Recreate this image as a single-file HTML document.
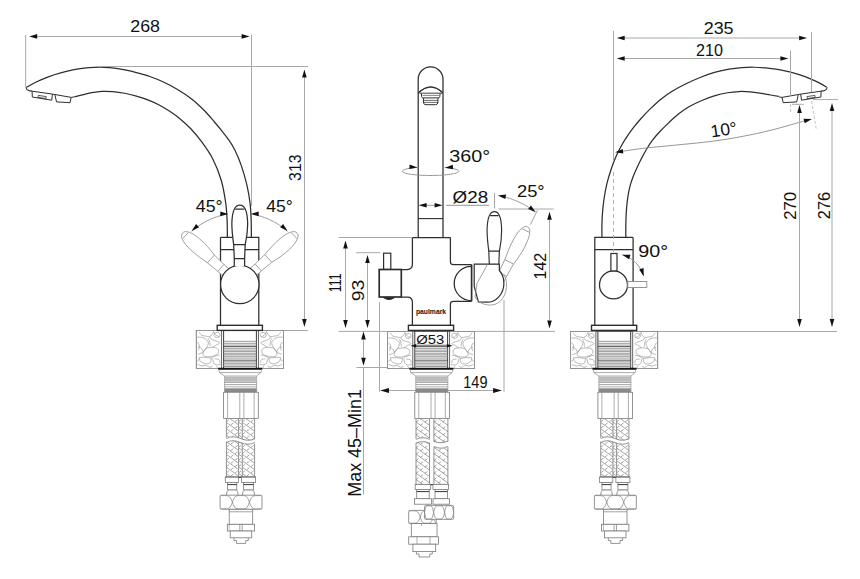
<!DOCTYPE html><html><head><meta charset="utf-8"><style>html,body{margin:0;padding:0;background:#fff;}svg{display:block;}</style></head><body><svg width="860" height="579" viewBox="0 0 860 579" font-family='"Liberation Sans", sans-serif' fill="#111">
<rect width="860" height="579" fill="#fff"/>
<path d="M 26.3 87.3 C 28.05 86.37 33.09 83.47 36.77 81.72 C 40.46 79.98 44.43 78.3 48.4 76.82 C 52.37 75.35 56.53 74.02 60.6 72.88 C 64.67 71.73 68.87 70.76 72.8 69.97 C 76.73 69.19 80.62 68.6 84.2 68.15 C 87.78 67.7 90.93 67.45 94.25 67.3 C 97.57 67.15 100.74 67.13 104.1 67.27 C 107.46 67.42 110.96 67.7 114.43 68.15 C 117.89 68.6 121.23 69.23 124.9 69.98 C 128.57 70.72 132.27 71.51 136.43 72.6 C 140.58 73.69 145.26 74.88 149.85 76.5 C 154.44 78.12 159.3 80.1 163.97 82.3 C 168.65 84.5 173.31 86.92 177.92 89.7 C 182.54 92.47 187.26 95.49 191.65 98.95 C 196.04 102.41 200.47 106.64 204.28 110.47 C 208.08 114.31 211.52 118.5 214.5 121.97 C 217.48 125.45 219.81 128.37 222.15 131.3 C 224.49 134.23 226.41 136.43 228.53 139.55 C 230.64 142.67 232.69 145.65 234.82 150 C 236.96 154.35 239.32 159.8 241.32 165.62 C 243.33 171.45 245.42 178.72 246.88 184.98 C 248.33 191.23 249.34 197.42 250.05 203.18 C 250.76 208.93 250.93 213.82 251.15 219.53 C 251.38 225.23 251.36 234.42 251.4 237.4 " stroke="#2e2e2e" stroke-width="1.25" fill="none" />
<path d="M 74.5 96.8 C 75.82 96.49 79.51 95.61 82.42 94.93 C 85.34 94.24 88.75 93.27 91.97 92.68 C 95.2 92.08 98.32 91.53 101.8 91.35 C 105.28 91.17 109.06 91.31 112.85 91.62 C 116.64 91.94 120.62 92.5 124.55 93.25 C 128.48 94 132.44 95 136.43 96.15 C 140.41 97.3 144.65 98.65 148.45 100.12 C 152.25 101.6 155.65 103.13 159.2 105 C 162.75 106.87 166.18 108.99 169.72 111.35 C 173.27 113.71 177 116.32 180.47 119.18 C 183.95 122.03 187.12 124.85 190.57 128.5 C 194.02 132.15 197.53 136.13 201.18 141.1 C 204.82 146.07 209.11 151.85 212.43 158.3 C 215.74 164.75 218.9 172.61 221.07 179.8 C 223.25 186.99 224.5 194.83 225.5 201.45 C 226.5 208.07 226.76 213.53 227.08 219.53 C 227.39 225.52 227.35 234.42 227.4 237.4 " stroke="#2e2e2e" stroke-width="1.25" fill="none" />
<path d="M 26.5 87.3 Q 25.6 89.6 29 90.6 L 32.1 91.1" stroke="#2e2e2e" stroke-width="1.1" fill="none" />
<path d="M 32.1 91.2 L 52.5 94.1 L 51.7 100.2 L 32.3 97 Z" stroke="#2e2e2e" stroke-width="1.0" fill="none" />
<path d="M 38.3 95.4 L 46.2 96.6 L 46 98.6 L 38.1 97.4 Z" stroke="#2e2e2e" stroke-width="0.8" fill="none" />
<path d="M 52.5 94.1 L 54.9 94.5" stroke="#2e2e2e" stroke-width="1.0" fill="none" />
<path d="M 54.9 94.5 L 71.2 97.4 L 70 102.7 L 56.5 101.9 Z" stroke="#2e2e2e" stroke-width="1.0" fill="none" />
<path d="M 71.2 97.4 L 74.5 96.8" stroke="#2e2e2e" stroke-width="1.0" fill="none" />
<g transform="translate(853.2 0) scale(-1 1)">
<path d="M 26.5 87.3 Q 25.6 89.6 29 90.6 L 32.1 91.1" stroke="#2e2e2e" stroke-width="1.1" fill="none" />
<path d="M 32.1 91.2 L 52.5 94.1 L 51.7 100.2 L 32.3 97 Z" stroke="#2e2e2e" stroke-width="1.0" fill="none" />
<path d="M 38.3 95.4 L 46.2 96.6 L 46 98.6 L 38.1 97.4 Z" stroke="#2e2e2e" stroke-width="0.8" fill="none" />
<path d="M 52.5 94.1 L 54.9 94.5" stroke="#2e2e2e" stroke-width="1.0" fill="none" />
<path d="M 54.9 94.5 L 71.2 97.4 L 70 102.7 L 56.5 101.9 Z" stroke="#2e2e2e" stroke-width="1.0" fill="none" />
<path d="M 71.2 97.4 L 74.5 96.8" stroke="#2e2e2e" stroke-width="1.0" fill="none" />
</g>
<path d="M 826.7 87.3 C 825.61 86.65 822.75 84.75 820.15 83.38 C 817.55 82 814.31 80.45 811.08 79.08 C 807.84 77.7 804.31 76.3 800.73 75.1 C 797.14 73.9 793.43 72.79 789.58 71.85 C 785.72 70.91 781.55 70.1 777.6 69.45 C 773.65 68.8 769.78 68.29 765.85 67.93 C 761.92 67.56 758.01 67.3 754 67.25 C 749.99 67.2 745.94 67.28 741.78 67.6 C 737.61 67.92 733.4 68.4 729 69.18 C 724.6 69.95 720.09 70.88 715.38 72.22 C 710.66 73.57 705.7 75.29 700.72 77.25 C 695.75 79.21 690.32 81.67 685.55 84 C 680.78 86.33 676.2 88.72 672.1 91.25 C 668 93.78 664.53 96.3 660.92 99.2 C 657.32 102.1 653.83 105.41 650.48 108.67 C 647.12 111.94 643.73 115.52 640.83 118.78 C 637.92 122.03 635.38 125.16 633.02 128.22 C 630.67 131.29 628.64 134.2 626.67 137.15 C 624.71 140.1 622.95 142.87 621.25 145.95 C 619.55 149.03 618.08 151.92 616.45 155.62 C 614.82 159.33 613.07 163.51 611.48 168.18 C 609.88 172.84 608.16 178.36 606.9 183.62 C 605.64 188.89 604.65 194.59 603.9 199.75 C 603.15 204.91 602.71 210.02 602.38 214.57 C 602.04 219.13 601.96 223.3 601.9 227.1 C 601.84 230.9 601.98 235.68 602 237.4 " stroke="#2e2e2e" stroke-width="1.25" fill="none" />
<path d="M 778.7 96.4 C 777.32 96.17 773.26 95.5 770.4 95 C 767.54 94.5 764.84 93.92 761.53 93.4 C 758.21 92.88 754.28 92.19 750.5 91.88 C 746.72 91.56 742.66 91.38 738.83 91.53 C 734.99 91.67 731.43 92.06 727.48 92.75 C 723.52 93.44 719.35 94.38 715.08 95.68 C 710.8 96.97 706.08 98.68 701.8 100.5 C 697.52 102.32 693.28 104.31 689.38 106.58 C 685.47 108.84 681.88 111.32 678.38 114.07 C 674.88 116.82 671.49 120.13 668.38 123.08 C 665.26 126.02 662.38 128.86 659.7 131.75 C 657.03 134.64 654.6 137.36 652.32 140.4 C 650.05 143.44 647.93 146.88 646.08 149.97 C 644.22 153.07 642.72 156 641.2 158.95 C 639.68 161.9 638.33 164.7 636.98 167.68 C 635.62 170.65 634.23 173.79 633.08 176.82 C 631.93 179.86 630.93 182.66 630.08 185.88 C 629.23 189.09 628.56 192.43 627.98 196.12 C 627.39 199.82 626.92 203.8 626.58 208.03 C 626.23 212.25 626.03 216.55 625.9 221.45 C 625.77 226.35 625.82 234.74 625.8 237.4 " stroke="#2e2e2e" stroke-width="1.25" fill="none" />
<path d="M 220.5 237.4 L 258.8 237.4 L 258.8 325.3 M 220.5 237.4 L 220.5 325.3 M 220.5 249.5 L 258.8 249.5" stroke="#2e2e2e" stroke-width="1.25" fill="none" />
<g transform="rotate(-48 239.8 284.5) translate(239.8 284.5) scale(0.9 0.97) translate(-239.8 -284.5)">
<path d="M 234.3 266 L 234.3 258.6 L 233.7 244.7 C 232.6 237 231.6 230 231.9 222 C 232.3 212 235 205.1 239.8 205.1 C 244.6 205.1 247.3 212 247.6 222 C 247.9 230 246.9 237 245.2 244.7 L 244.6 258.6 L 244.6 266" stroke="#8a8a8a" stroke-width="0.8" fill="#fff" />
<path d="M 235.2 209.2 L 244.4 209.2 M 233.7 244.7 L 245.2 244.7 M 234.3 258.6 L 244.6 258.6" stroke="#8a8a8a" stroke-width="0.8" fill="none" />
</g>
<g transform="rotate(48 239.8 284.5) translate(239.8 284.5) scale(0.9 0.97) translate(-239.8 -284.5)">
<path d="M 234.3 266 L 234.3 258.6 L 233.7 244.7 C 232.6 237 231.6 230 231.9 222 C 232.3 212 235 205.1 239.8 205.1 C 244.6 205.1 247.3 212 247.6 222 C 247.9 230 246.9 237 245.2 244.7 L 244.6 258.6 L 244.6 266" stroke="#8a8a8a" stroke-width="0.8" fill="#fff" />
<path d="M 235.2 209.2 L 244.4 209.2 M 233.7 244.7 L 245.2 244.7 M 234.3 258.6 L 244.6 258.6" stroke="#8a8a8a" stroke-width="0.8" fill="none" />
</g>
<circle cx="239.8" cy="284.5" r="19.2" stroke="#2e2e2e" stroke-width="1.25" fill="#fff" />
<path d="M 234.3 266 L 234.3 258.6 L 233.7 244.7 C 232.6 237 231.6 230 231.9 222 C 232.3 212 235 205.1 239.8 205.1 C 244.6 205.1 247.3 212 247.6 222 C 247.9 230 246.9 237 245.2 244.7 L 244.6 258.6 L 244.6 266" stroke="#2e2e2e" stroke-width="1.25" fill="#fff" />
<path d="M 235.2 209.2 L 244.4 209.2 M 233.7 244.7 L 245.2 244.7 M 234.3 258.6 L 244.6 258.6" stroke="#2e2e2e" stroke-width="1.25" fill="none" />
<line x1="25.65" y1="35" x2="25.65" y2="87.3" stroke="#a8a8a8" stroke-width="1.0" />
<line x1="251.5" y1="34.6" x2="251.5" y2="206" stroke="#a8a8a8" stroke-width="1.0" />
<line x1="36.5" y1="36.5" x2="242.2" y2="36.5" stroke="#a8a8a8" stroke-width="1.0" />
<polygon points="29.2,36.4 37.2,34.1 37.2,38.7" fill="#111"/>
<polygon points="249.6,36.4 241.6,38.7 241.6,34.1" fill="#111"/>
<text x="130.28" y="32.3" font-size="17" textLength="29.72" lengthAdjust="spacingAndGlyphs">268</text>
<line x1="97" y1="66.5" x2="308" y2="66.5" stroke="#a8a8a8" stroke-width="1.0" />
<line x1="262.4" y1="330.5" x2="308" y2="330.5" stroke="#a8a8a8" stroke-width="1.0" />
<line x1="304.5" y1="77" x2="304.5" y2="319.5" stroke="#a8a8a8" stroke-width="1.0" />
<polygon points="304.4,69.5 306.7,77.5 302.1,77.5" fill="#111"/>
<polygon points="304.4,327 302.1,319 306.7,319" fill="#111"/>
<text x="301.4" y="180.9" font-size="17" textLength="26.39" lengthAdjust="spacingAndGlyphs" transform="rotate(-90 301.4 180.9)">313</text>
<path d="M 221.6 215.39 L 220.22 215.76 L 218.85 216.16 L 217.49 216.59 L 216.13 217.04 L 214.79 217.52 L 213.45 218.02 L 212.13 218.56 L 210.81 219.11 L 209.51 219.7 L 208.22 220.31 L 206.94 220.94 L 205.68 221.6 L 204.43 222.29 L 203.19 223 L 201.97 223.74 L 200.76 224.5 L 199.56 225.28 L 198.39 226.08 L 197.22 226.91 L 196.08 227.77 L 194.95 228.64 L 193.84 229.54 L 192.75 230.46 L 191.68 231.4" stroke="#8a8a8a" stroke-width="0.9" fill="none" />
<polygon points="228.3,214 220.26,216.14 220.35,211.54" fill="#111"/>
<polygon points="191.6,230.9 196.09,223.89 199.13,227.34" fill="#111"/>
<path d="M 257.6 215.39 L 258.98 215.76 L 260.35 216.16 L 261.71 216.59 L 263.07 217.04 L 264.41 217.52 L 265.75 218.02 L 267.07 218.56 L 268.39 219.11 L 269.69 219.7 L 270.98 220.31 L 272.26 220.94 L 273.52 221.6 L 274.77 222.29 L 276.01 223 L 277.23 223.74 L 278.44 224.5 L 279.64 225.28 L 280.81 226.08 L 281.98 226.91 L 283.12 227.77 L 284.25 228.64 L 285.36 229.54 L 286.45 230.46 L 287.52 231.4" stroke="#8a8a8a" stroke-width="0.9" fill="none" />
<polygon points="250.7,214 258.65,211.54 258.74,216.14" fill="#111"/>
<polygon points="287.6,230.9 280.07,227.34 283.11,223.89" fill="#111"/>
<text x="195.8" y="211.9" font-size="17" textLength="26.88" lengthAdjust="spacingAndGlyphs">45°</text>
<text x="266.3" y="211.9" font-size="17" textLength="26.57" lengthAdjust="spacingAndGlyphs">45°</text>
<path d="M 418.2 237.6 L 418.2 79.3 A 12.4 12.4 0 0 1 443.0 79.3 L 443.0 237.6" stroke="#2e2e2e" stroke-width="1.25" fill="none" />
<path d="M 418.4 93.2 Q 430.7 80.5 443 93.2" stroke="#2e2e2e" stroke-width="1.2" fill="none" />
<path d="M 419.2 91.6 Q 430.7 82.5 442.2 91.6" stroke="#2e2e2e" stroke-width="0.8" fill="none" />
<path d="M 419.5 93.2 L 442 93.2" stroke="#2e2e2e" stroke-width="0.9" fill="none" />
<path d="M 421.3 93.3 L 421.6 96.6 Q 421.8 97.9 423.3 97.9 L 438.1 97.9 Q 439.6 97.9 439.8 96.6 L 440.1 93.3" stroke="#2e2e2e" stroke-width="1.0" fill="none" />
<path d="M 423.3 98 L 423.6 103 Q 424 104.7 426 104.7 L 435.4 104.7 Q 437.4 104.7 437.8 103 L 438.1 98" stroke="#2e2e2e" stroke-width="1.0" fill="none" />
<path d="M 423.5 100.4 L 437.9 100.4 M 423.7 102.4 L 437.7 102.4" stroke="#2e2e2e" stroke-width="0.7" fill="none" />
<path d="M 422.5 95.4 L 438.9 95.4" stroke="#2e2e2e" stroke-width="0.6" fill="none" />
<line x1="418.2" y1="218.6" x2="443" y2="218.6" stroke="#2e2e2e" stroke-width="1.1" />
<path d="M 417.26 167.4 L 415.13 167.6 L 413.11 167.81 L 411.23 168.06 L 409.5 168.33 L 407.93 168.62 L 406.53 168.93 L 405.32 169.26 L 404.3 169.61 L 403.49 169.96 L 402.88 170.33 L 402.49 170.7 L 402.31 171.08 L 402.35 171.46 L 402.61 171.83 L 403.08 172.2 L 403.76 172.57 L 404.65 172.92 L 405.74 173.26 L 407.02 173.58 L 408.48 173.89 L 410.11 174.17 L 411.9 174.43 L 413.83 174.67 L 415.89 174.88 L 418.06 175.06 L 420.33 175.21 L 422.68 175.33 L 425.09 175.42 L 427.54 175.48 L 430.01 175.5 L 432.48 175.49 L 434.94 175.45 L 437.37 175.37 L 439.74 175.26 L 442.04 175.12 L 444.26 174.95 L 446.36 174.76 L 448.35 174.53 L 450.2 174.28 L 451.89 174 L 453.42 173.71 L 454.77 173.39 L 455.94 173.06 L 456.91 172.71 L 457.67 172.35 L 458.23 171.98 L 458.57 171.61 L 458.7 171.23 L 458.61 170.85 L 458.3 170.48 L 457.78 170.11 L 457.04 169.75 L 456.11 169.4 L 454.97 169.06 L 453.65 168.74 L 452.14 168.44 L 450.48 168.16 L 448.65 167.91 L 446.69 167.68 L 444.6 167.48" stroke="#8a8a8a" stroke-width="0.9" fill="none" />
<polygon points="417.4,167.6 409.21,169.09 409.67,164.52" fill="#111"/>
<polygon points="445,167.8 452.73,164.72 453.19,169.29" fill="#111"/>
<text x="449.27" y="161.6" font-size="17" textLength="40.89" lengthAdjust="spacingAndGlyphs">360°</text>
<line x1="425.4" y1="205.3" x2="436" y2="205.3" stroke="#8a8a8a" stroke-width="0.9" />
<polygon points="418.6,205.3 426.6,203 426.6,207.6" fill="#111"/>
<polygon points="442.6,205.3 434.6,207.6 434.6,203" fill="#111"/>
<line x1="446" y1="205.3" x2="489" y2="205.3" stroke="#8a8a8a" stroke-width="0.9" />
<text x="452.63" y="203.4" font-size="17" textLength="35.53" lengthAdjust="spacingAndGlyphs">Ø28</text>
<path d="M 412.4 237.6 L 450.4 237.6" stroke="#2e2e2e" stroke-width="1.25" fill="none" />
<path d="M 412.4 237.6 L 412.4 264.3 Q 412.4 269.5 407.2 269.5 L 401.3 269.5" stroke="#2e2e2e" stroke-width="1.25" fill="none" />
<path d="M 401.3 297 L 407.2 297 Q 412.4 297 412.4 302.2 L 412.4 325.5" stroke="#2e2e2e" stroke-width="1.25" fill="none" />
<path d="M 450.4 237.6 L 450.4 261.8 Q 450.4 264.6 453.3 264.6 L 471.6 264.6" stroke="#2e2e2e" stroke-width="1.25" fill="none" />
<path d="M 471.6 301.3 L 453.3 301.3 Q 450.4 301.3 450.4 304.1 L 450.4 325.5" stroke="#2e2e2e" stroke-width="1.25" fill="none" />
<rect x="383.6" y="253.2" width="7.2" height="16.3" stroke="#2e2e2e" stroke-width="1.2" fill="#fff" />
<rect x="379.2" y="269.5" width="22.1" height="27.5" stroke="#2e2e2e" stroke-width="1.7" fill="#fff" />
<path d="M 383.5 297.6 Q 389 301.5 394.5 297.6 Z" stroke="#2e2e2e" stroke-width="1.0" fill="#222" />
<path d="M 471.3 266.4 A 17.1 17.1 0 0 0 471.3 300.6" stroke="#2e2e2e" stroke-width="1.25" fill="none" />
<line x1="471.6" y1="264.6" x2="471.6" y2="301.3" stroke="#2e2e2e" stroke-width="1.7" />
<text x="431" y="314.3" font-size="7.9" text-anchor="middle" font-weight="bold" textLength="30.2" lengthAdjust="spacingAndGlyphs">paulmark</text>
<g transform="rotate(27.4 479.7 287.4) translate(494.4 0) scale(0.85 1) translate(-494.4 0)">
<g transform="translate(254.6 6.5)">
<path d="M 234.3 266 L 234.3 258.6 L 233.7 244.7 C 232.6 237 231.6 230 231.9 222 C 232.3 212 235 205.1 239.8 205.1 C 244.6 205.1 247.3 212 247.6 222 C 247.9 230 246.9 237 245.2 244.7 L 244.6 258.6 L 244.6 266" stroke="#8a8a8a" stroke-width="0.8" fill="#fff" />
<path d="M 235.2 209.2 L 244.4 209.2 M 233.7 244.7 L 245.2 244.7 M 234.3 258.6 L 244.6 258.6" stroke="#8a8a8a" stroke-width="0.8" fill="none" />
</g>
</g>
<g transform="translate(494.4 0) scale(0.92 1) translate(-494.4 0) translate(254.6 6.5)">
<path d="M 234.3 266 L 234.3 258.6 L 233.7 244.7 C 232.6 237 231.6 230 231.9 222 C 232.3 212 235 205.1 239.8 205.1 C 244.6 205.1 247.3 212 247.6 222 C 247.9 230 246.9 237 245.2 244.7 L 244.6 258.6 L 244.6 266" stroke="#2e2e2e" stroke-width="1.25" fill="#fff" />
<path d="M 235.2 209.2 L 244.4 209.2 M 233.7 244.7 L 245.2 244.7 M 234.3 258.6 L 244.6 258.6" stroke="#2e2e2e" stroke-width="1.25" fill="none" />
</g>
<path d="M 474.2 264.2 L 499.3 264.2 L 499.3 270.5 C 502.5 274 503.9 278.5 503.9 283.5 C 503.9 294 496 302.2 487 302.2 L 478.4 302 L 474.2 286.3 Z" stroke="#2e2e2e" stroke-width="1.2" fill="#fff" />
<path d="M 487.5 264.5 L 477 283.5 L 475.1 296.8 C 477 302 484 305.5 492 305 C 501 304 507 295 506.5 283.5 C 506.3 279 505 276.5 503.5 274.5" stroke="#8a8a8a" stroke-width="0.8" fill="none" />
<line x1="338.6" y1="237.5" x2="412.4" y2="237.5" stroke="#a8a8a8" stroke-width="1.0" />
<line x1="356" y1="252.7" x2="380.4" y2="252.7" stroke="#a8a8a8" stroke-width="1.0" />
<line x1="338.6" y1="331.4" x2="387.4" y2="331.4" stroke="#a8a8a8" stroke-width="1.0" />
<line x1="474.7" y1="331.4" x2="555" y2="331.4" stroke="#a8a8a8" stroke-width="1.0" />
<line x1="345.5" y1="248" x2="345.5" y2="320.5" stroke="#a8a8a8" stroke-width="1.0" />
<polygon points="345.5,240.5 347.8,248.5 343.2,248.5" fill="#111"/>
<polygon points="345.5,328 343.2,320 347.8,320" fill="#111"/>
<line x1="367.5" y1="262.5" x2="367.5" y2="320.5" stroke="#a8a8a8" stroke-width="1.0" />
<polygon points="367.5,255 369.8,263 365.2,263" fill="#111"/>
<polygon points="367.5,328 365.2,320 369.8,320" fill="#111"/>
<text x="341.4" y="292.21" font-size="17" textLength="18.84" lengthAdjust="spacingAndGlyphs" transform="rotate(-90 341.4 292.21)">111</text>
<text x="363.9" y="301.31" font-size="17" textLength="21.52" lengthAdjust="spacingAndGlyphs" transform="rotate(-90 363.9 301.31)">93</text>
<line x1="494.5" y1="193" x2="494.5" y2="208.4" stroke="#a8a8a8" stroke-width="1.0" />
<line x1="498.4" y1="209" x2="553.8" y2="209" stroke="#a8a8a8" stroke-width="1.0" />
<path d="M 505.12 197.08 L 506.21 197.37 L 507.29 197.68 L 508.36 198 L 509.43 198.33 L 510.5 198.68 L 511.56 199.04 L 512.62 199.42 L 513.67 199.81 L 514.72 200.22 L 515.76 200.64 L 516.8 201.07 L 517.83 201.52 L 518.85 201.98 L 519.87 202.45 L 520.88 202.94 L 521.88 203.45 L 522.88 203.96 L 523.87 204.49 L 524.85 205.04 L 525.83 205.59 L 526.79 206.16 L 527.75 206.74 L 528.7 207.34 L 529.65 207.95" stroke="#8a8a8a" stroke-width="0.9" fill="none" />
<polygon points="497.8,195.5 506.07,194.57 505.3,199.1" fill="#111"/>
<polygon points="535.8,212.2 528.1,209.05 530.95,205.44" fill="#111"/>
<line x1="537.4" y1="210.3" x2="530.4" y2="224.6" stroke="#8a8a8a" stroke-width="0.8" />
<text x="516.95" y="197.4" font-size="17" textLength="27.74" lengthAdjust="spacingAndGlyphs">25°</text>
<line x1="549.5" y1="219.5" x2="549.5" y2="320.5" stroke="#a8a8a8" stroke-width="1.0" />
<polygon points="549.5,211.7 551.8,219.7 547.2,219.7" fill="#111"/>
<polygon points="549.5,328.5 547.2,320.5 551.8,320.5" fill="#111"/>
<text x="546.1" y="279.51" font-size="17" textLength="26.7" lengthAdjust="spacingAndGlyphs" transform="rotate(-90 546.1 279.51)">142</text>
<line x1="379.5" y1="302" x2="379.5" y2="391.6" stroke="#a8a8a8" stroke-width="1.0" />
<line x1="504" y1="300" x2="504" y2="391.7" stroke="#a8a8a8" stroke-width="1.0" />
<line x1="386.3" y1="390.5" x2="495" y2="390.5" stroke="#a8a8a8" stroke-width="1.0" />
<polygon points="380.2,390.5 389,388.1 389,392.9" fill="#111"/>
<polygon points="501.9,390.5 493.1,392.9 493.1,388.1" fill="#111"/>
<text x="463.27" y="387.9" font-size="17" textLength="24.2" lengthAdjust="spacingAndGlyphs">149</text>
<line x1="356.4" y1="367.5" x2="387.4" y2="367.5" stroke="#a8a8a8" stroke-width="1.0" />
<line x1="363.5" y1="339.5" x2="363.5" y2="359.5" stroke="#a8a8a8" stroke-width="1.0" />
<polygon points="363.5,331.5 365.8,339.5 361.2,339.5" fill="#111"/>
<polygon points="363.5,365.8 361.2,357.8 365.8,357.8" fill="#111"/>
<line x1="363.5" y1="367" x2="363.5" y2="494.5" stroke="#a8a8a8" stroke-width="1.0" />
<text x="361.1" y="496.83" font-size="18.5" textLength="107.92" lengthAdjust="spacingAndGlyphs" transform="rotate(-90 361.1 496.83)">Max 45–Min1</text>
<g transform="translate(853.6 0) scale(-1 1)">
<path d="M 220.5 237.4 L 258.8 237.4 L 258.8 325.3 M 220.5 237.4 L 220.5 325.3 M 220.5 249.5 L 258.8 249.5" stroke="#2e2e2e" stroke-width="1.25" fill="none" />
</g>
<circle cx="613.5" cy="284.9" r="14" stroke="#2e2e2e" stroke-width="1.25" fill="#fff" />
<rect x="610.9" y="253.5" width="6.1" height="17.4" stroke="#2e2e2e" stroke-width="1.2" fill="#fff" />
<rect x="627.8" y="281.5" width="19" height="6" stroke="#8a8a8a" stroke-width="0.9" fill="#fff" />
<path d="M 613.5 172 L 613.5 252" stroke="#a8a8a8" stroke-width="0.9" fill="none" stroke-dasharray="4 3"/>
<line x1="613.5" y1="31" x2="613.5" y2="160" stroke="#a8a8a8" stroke-width="1.0" />
<line x1="811.5" y1="32.3" x2="811.5" y2="92" stroke="#a8a8a8" stroke-width="1.0" />
<line x1="790.5" y1="50.5" x2="790.5" y2="96" stroke="#a8a8a8" stroke-width="1.0" />
<path d="M 790.6 104 L 790.6 112 M 811.6 101 L 816.3 129.5" stroke="#a8a8a8" stroke-width="0.7" fill="none" stroke-dasharray="3 2"/>
<line x1="624.2" y1="38" x2="799.6" y2="38" stroke="#a8a8a8" stroke-width="1.0" />
<polygon points="616.7,38 624.7,35.7 624.7,40.3" fill="#111"/>
<polygon points="807.1,38 799.1,40.3 799.1,35.7" fill="#111"/>
<line x1="624.2" y1="58.5" x2="780.9" y2="58.5" stroke="#a8a8a8" stroke-width="1.0" />
<polygon points="616.7,58.5 624.7,56.2 624.7,60.8" fill="#111"/>
<polygon points="788.4,58.5 780.4,60.8 780.4,56.2" fill="#111"/>
<text x="703.68" y="33.7" font-size="17" textLength="29.93" lengthAdjust="spacingAndGlyphs">235</text>
<text x="696.08" y="55.5" font-size="17" textLength="26.91" lengthAdjust="spacingAndGlyphs">210</text>
<path d="M 621.5 151.4 C 625.55 150.83 637.1 149.02 645.8 148 C 654.5 146.98 662.53 146.43 673.7 145.3 C 684.87 144.17 701.17 142.72 712.8 141.2 C 724.43 139.68 733.73 138.05 743.5 136.2 C 753.27 134.35 761.15 132.67 771.4 130.1 C 781.65 127.53 799.4 122.35 805 120.8 " stroke="#8a8a8a" stroke-width="0.9" fill="none" />
<polygon points="615.1,152.2 622.73,148.88 623.33,153.44" fill="#111"/>
<polygon points="811.9,119 804.69,123.15 803.58,118.69" fill="#111"/>
<text x="724.6" y="135.6" font-size="17.5" text-anchor="middle" transform="rotate(-8.5 724.6 135.6)" >10°</text>
<line x1="792" y1="104.3" x2="803.7" y2="104.3" stroke="#a8a8a8" stroke-width="1.0" />
<line x1="813" y1="99.6" x2="838" y2="99.6" stroke="#a8a8a8" stroke-width="1.0" />
<line x1="636.5" y1="331.5" x2="837" y2="331.5" stroke="#a8a8a8" stroke-width="1.0" />
<line x1="799.5" y1="112.5" x2="799.5" y2="319.5" stroke="#a8a8a8" stroke-width="1.0" />
<polygon points="799.5,105 801.8,113 797.2,113" fill="#111"/>
<polygon points="799.5,327 797.2,319 801.8,319" fill="#111"/>
<line x1="832" y1="110.5" x2="832" y2="319.5" stroke="#a8a8a8" stroke-width="1.0" />
<polygon points="832,103 834.3,111 829.7,111" fill="#111"/>
<polygon points="832,327 829.7,319 834.3,319" fill="#111"/>
<text x="796.2" y="219.86" font-size="17" textLength="28.06" lengthAdjust="spacingAndGlyphs" transform="rotate(-90 796.2 219.86)">270</text>
<text x="830" y="219.14" font-size="17" textLength="27.33" lengthAdjust="spacingAndGlyphs" transform="rotate(-90 830 219.14)">276</text>
<path d="M 622.68 254.87 L 623.85 255.26 L 625.01 255.68 L 626.15 256.16 L 627.26 256.68 L 628.36 257.24 L 629.44 257.84 L 630.49 258.49 L 631.51 259.18 L 632.51 259.91 L 633.47 260.67 L 634.41 261.47 L 635.31 262.31 L 636.18 263.19 L 637.02 264.09 L 637.82 265.03 L 638.58 266 L 639.3 267 L 639.98 268.03 L 640.62 269.08 L 641.22 270.16 L 641.78 271.26 L 642.3 272.38 L 642.77 273.52 L 643.19 274.68" stroke="#8a8a8a" stroke-width="0.9" fill="none" />
<polygon points="622.1,254.7 630.42,254.73 629.14,259.15" fill="#111"/>
<polygon points="643.8,276.4 639.2,269.46 643.58,268.08" fill="#111"/>
<text x="638.27" y="257.3" font-size="17" textLength="29.86" lengthAdjust="spacingAndGlyphs">90°</text>
<rect x="196.3" y="330.4" width="87.1" height="38.1" stroke="#8e8e8e" stroke-width="0.8" fill="#fff" />
<clipPath id="pb11"><rect x="196.3" y="330.4" width="25.3" height="38.1"/></clipPath><g clip-path="url(#pb11)">
<path d="M 198.9 331.84 C 199.37 332.4 200.61 334.53 201.74 335.24 C 202.86 335.95 204.34 335.86 205.64 336.09 C 206.94 336.33 208.42 336.96 209.54 336.66 C 210.66 336.36 211.7 335.18 212.38 334.32 C 213.05 333.46 213.38 331.96 213.58 331.48 M 209.54 336.66 C 209.78 337.04 210.25 338.31 210.96 338.93 C 211.67 339.54 212.55 339.87 213.79 340.35 C 215.04 340.82 217.4 341.29 218.4 341.77 C 219.41 342.24 219.59 342.95 219.82 343.18 M 196.99 337.16 C 197.84 337.19 200.53 336.98 202.09 337.37 C 203.65 337.76 205.31 338.59 206.35 339.5 C 207.39 340.41 208.27 341.53 208.33 342.83 C 208.39 344.13 207.68 345.7 206.7 347.3 C 205.72 348.89 203.92 351.22 202.45 352.4 C 200.97 353.59 198.61 354.06 197.84 354.39 M 206.35 348.01 C 207.41 347.89 210.86 347.18 212.73 347.3 C 214.6 347.42 216.58 347.89 217.55 348.72 C 218.52 349.54 218.85 351.2 218.55 352.26 C 218.24 353.33 217.27 354.34 215.71 355.1 C 214.15 355.86 211.1 356.66 209.18 356.8 C 207.27 356.94 205.26 356.57 204.22 355.95 C 203.18 355.34 202.59 354.44 202.94 353.11 C 203.3 351.79 205.78 348.86 206.35 348.01 M 212.73 347.3 C 213.32 346.91 215.15 345.58 216.28 344.96 C 217.4 344.33 218.94 343.78 219.47 343.54 M 199.4 357.51 C 200.32 357.49 202.94 357.27 204.93 357.37 C 206.91 357.46 209.87 358.17 211.31 358.08 C 212.75 357.98 212.64 357.25 213.58 356.8 C 214.53 356.35 215.95 355.7 216.99 355.38 C 218.03 355.06 219.35 354.97 219.82 354.89 M 211.31 358.08 C 211.1 358.88 210.98 361.96 210.04 362.9 C 209.09 363.85 207.17 363.94 205.64 363.75 C 204.1 363.56 201.86 362.59 200.82 361.77 C 199.78 360.94 199.63 359.28 199.4 358.79 M 212.87 358.79 C 212.99 359.47 213.01 361.9 213.58 362.9 C 214.15 363.91 215.06 364.56 216.28 364.82 C 217.49 365.08 220.12 364.52 220.89 364.46 M 197.48 364.46 C 198.25 364.7 200.73 365.74 202.09 365.88 C 203.45 366.02 204.34 365.08 205.64 365.31 C 206.94 365.55 208.71 367.2 209.89 367.3 C 211.08 367.39 212.26 366.12 212.73 365.88 M 208.12 338.22 C 208.36 338.75 209.18 340.11 209.54 341.41 C 209.89 342.71 210.13 345.25 210.25 346.02 M 199.61 357.01 C 199.43 357.55 198.96 359.56 198.55 360.21 C 198.13 360.86 197.36 360.8 197.13 360.91 M 213.58 331.48 C 214.03 332.13 215.24 334.5 216.28 335.38 C 217.32 336.27 219.23 336.57 219.82 336.8 M 197.13 341.77 C 197.51 342.36 199.18 343.89 199.4 345.31 C 199.61 346.73 198.57 349.45 198.4 350.28 M 214.5 333.4 C 215.15 333.23 217.49 332.05 218.4 332.4 C 219.31 332.76 220.18 334.65 219.96 335.52 C 219.75 336.4 218.07 337.56 217.13 337.65 C 216.18 337.75 214.73 336.8 214.29 336.09 C 213.85 335.38 214.47 333.85 214.5 333.4 M 214.86 358.79 C 215.57 358.93 218.26 358.91 219.11 359.64 C 219.96 360.37 219.82 362.59 219.96 363.18 M 197.84 346.73 C 198.43 346.99 200.46 347.35 201.38 348.29 C 202.3 349.24 203.04 351.72 203.37 352.4 M 197.84 368.72 C 198.78 368.66 201.62 368.3 203.51 368.36 C 205.4 368.42 208.24 368.95 209.18 369.07 M 216.28 365.88 C 216.63 366.35 218.05 368.24 218.4 368.72 " stroke="#9a9a9a" stroke-width="0.7" fill="none" />
</g>
<clipPath id="pb12"><rect x="258.9" y="330.4" width="24.5" height="38.1"/></clipPath><g clip-path="url(#pb12)">
<path d="M 280.88 331.84 C 280.42 332.4 279.22 334.53 278.13 335.24 C 277.05 335.95 275.62 335.86 274.36 336.09 C 273.1 336.33 271.67 336.96 270.58 336.66 C 269.49 336.36 268.48 335.18 267.83 334.32 C 267.18 333.46 266.86 331.96 266.66 331.48 M 270.58 336.66 C 270.35 337.04 269.89 338.31 269.21 338.93 C 268.52 339.54 267.66 339.87 266.46 340.35 C 265.26 340.82 262.97 341.29 261.99 341.77 C 261.02 342.24 260.85 342.95 260.62 343.18 M 282.74 337.16 C 281.91 337.19 279.3 336.98 277.79 337.37 C 276.28 337.76 274.68 338.59 273.67 339.5 C 272.66 340.41 271.8 341.53 271.75 342.83 C 271.69 344.13 272.38 345.7 273.33 347.3 C 274.28 348.89 276.02 351.22 277.45 352.4 C 278.88 353.59 281.17 354.06 281.91 354.39 M 273.67 348.01 C 272.64 347.89 269.3 347.18 267.49 347.3 C 265.68 347.42 263.76 347.89 262.82 348.72 C 261.88 349.54 261.56 351.2 261.86 352.26 C 262.15 353.33 263.09 354.34 264.6 355.1 C 266.12 355.86 269.07 356.66 270.92 356.8 C 272.78 356.94 274.72 356.57 275.73 355.95 C 276.74 355.34 277.31 354.44 276.97 353.11 C 276.62 351.79 274.22 348.86 273.67 348.01 M 267.49 347.3 C 266.92 346.91 265.14 345.58 264.06 344.96 C 262.97 344.33 261.48 343.78 260.96 343.54 M 280.4 357.51 C 279.51 357.49 276.97 357.27 275.04 357.37 C 273.12 357.46 270.26 358.17 268.86 358.08 C 267.47 357.98 267.58 357.25 266.66 356.8 C 265.75 356.35 264.38 355.7 263.37 355.38 C 262.36 355.06 261.08 354.97 260.62 354.89 M 268.86 358.08 C 269.07 358.88 269.18 361.96 270.1 362.9 C 271.01 363.85 272.87 363.94 274.36 363.75 C 275.85 363.56 278.02 362.59 279.03 361.77 C 280.03 360.94 280.17 359.28 280.4 358.79 M 267.35 358.79 C 267.24 359.47 267.21 361.9 266.66 362.9 C 266.12 363.91 265.23 364.56 264.06 364.82 C 262.88 365.08 260.33 364.52 259.59 364.46 M 282.26 364.46 C 281.51 364.7 279.11 365.74 277.79 365.88 C 276.47 366.02 275.62 365.08 274.36 365.31 C 273.1 365.55 271.38 367.2 270.24 367.3 C 269.09 367.39 267.95 366.12 267.49 365.88 M 271.95 338.22 C 271.72 338.75 270.92 340.11 270.58 341.41 C 270.24 342.71 270.01 345.25 269.89 346.02 M 280.19 357.01 C 280.37 357.55 280.82 359.56 281.22 360.21 C 281.63 360.86 282.37 360.8 282.6 360.91 M 266.66 331.48 C 266.23 332.13 265.06 334.5 264.06 335.38 C 263.05 336.27 261.19 336.57 260.62 336.8 M 282.6 341.77 C 282.23 342.36 280.61 343.89 280.4 345.31 C 280.19 346.73 281.2 349.45 281.36 350.28 M 265.77 333.4 C 265.14 333.23 262.88 332.05 261.99 332.4 C 261.11 332.76 260.28 334.65 260.48 335.52 C 260.69 336.4 262.32 337.56 263.23 337.65 C 264.15 337.75 265.55 336.8 265.98 336.09 C 266.4 335.38 265.81 333.85 265.77 333.4 M 265.43 358.79 C 264.74 358.93 262.13 358.91 261.31 359.64 C 260.48 360.37 260.62 362.59 260.48 363.18 M 281.91 346.73 C 281.34 346.99 279.37 347.35 278.48 348.29 C 277.58 349.24 276.88 351.72 276.55 352.4 M 281.91 368.72 C 281 368.66 278.25 368.3 276.42 368.36 C 274.59 368.42 271.84 368.95 270.92 369.07 M 264.06 365.88 C 263.71 366.35 262.34 368.24 261.99 368.72 " stroke="#9a9a9a" stroke-width="0.7" fill="none" />
</g>
<rect x="196.3" y="330.4" width="87.1" height="38.1" stroke="#8e8e8e" stroke-width="0.8" fill="none" />
<rect x="221.6" y="330.4" width="36.8" height="38.1" stroke="#555" stroke-width="0.9" fill="#fff" />
<line x1="223.6" y1="330.4" x2="223.6" y2="368.3" stroke="#222" stroke-width="0.9" />
<line x1="256.4" y1="330.4" x2="256.4" y2="368.3" stroke="#222" stroke-width="0.9" />
<path d="M 223.6 341.3 L 256.4 341.3 M 223.6 343.3 L 256.4 343.3 M 223.6 345.1 L 256.4 345.1 M 223.6 348.3 L 256.4 348.3 M 223.6 350.1 L 256.4 350.1 M 223.6 351.6 L 256.4 351.6 M 223.6 353.3 L 256.4 353.3 M 223.6 354.8 L 256.4 354.8 M 223.6 356.3 L 256.4 356.3 M 223.6 358.1 L 256.4 358.1 M 223.6 361.8 L 256.4 361.8 M 223.6 363.3 L 256.4 363.3 M 223.6 365 L 256.4 365 M 223.6 366.5 L 256.4 366.5 " stroke="#8e8e8e" stroke-width="0.9" fill="none" />
<path d="M 223.6 346.6 L 256.4 346.6 M 223.6 360.2 L 256.4 360.2" stroke="#444" stroke-width="0.9" fill="none" />
<rect x="217.2" y="325.3" width="45.2" height="5.1" stroke="#2e2e2e" stroke-width="1.4" fill="#fff" />
<line x1="218.2" y1="368.7" x2="262.2" y2="368.7" stroke="#111" stroke-width="1.9" />
<path d="M 218.8 369.5 L 219.6 372.6 L 224.6 376 L 224.6 392 M 261.6 369.5 L 260.8 372.6 L 256.6 376 L 256.6 392 M 219.6 372.6 L 260.8 372.6 M 224.6 376 L 256.6 376" stroke="#888" stroke-width="0.7" fill="none" />
<rect x="224.6" y="376.6" width="32" height="5" fill="#bcbcbc"/>
<rect x="224.6" y="381.8" width="32" height="0.9" fill="#8a8a8a"/>
<rect x="224.6" y="384.2" width="32" height="0.9" fill="#9a9a9a"/>
<rect x="224.6" y="386.4" width="32" height="0.9" fill="#aaa"/>
<rect x="224.6" y="388.3" width="32" height="3.7" fill="#8a8a8a"/>
<rect x="223.6" y="392.3" width="34.7" height="26.1" stroke="#7a7a7a" stroke-width="0.8" fill="#fff" />
<line x1="227.6" y1="392.3" x2="227.6" y2="418.4" stroke="#8a8a8a" stroke-width="0.7" />
<line x1="239.8" y1="392.3" x2="239.8" y2="418.4" stroke="#8a8a8a" stroke-width="0.7" />
<line x1="243.9" y1="392.3" x2="243.9" y2="418.4" stroke="#8a8a8a" stroke-width="0.7" />
<line x1="254.1" y1="392.3" x2="254.1" y2="418.4" stroke="#8a8a8a" stroke-width="0.7" />
<clipPath id="cb192"><rect x="226.4" y="418.4" width="12.2" height="58.2"/></clipPath><g clip-path="url(#cb192)">
<path d="M 226.4 403.22 L 238.6 412 M 226.4 409.62 L 238.6 418.4 M 226.4 416.02 L 238.6 424.8 M 226.4 422.42 L 238.6 431.2 M 226.4 428.82 L 238.6 437.6 M 226.4 435.22 L 238.6 444 M 226.4 441.62 L 238.6 450.4 M 226.4 448.02 L 238.6 456.8 M 226.4 454.42 L 238.6 463.2 M 226.4 460.82 L 238.6 469.6 M 226.4 467.22 L 238.6 476 M 226.4 473.62 L 238.6 482.4 M 226.4 480.02 L 238.6 488.8 " stroke="#8a8a8a" stroke-width="0.75" fill="none" />
<path d="M 226.4 415.2 L 238.6 406.42 M 226.4 421.6 L 238.6 412.82 M 226.4 428 L 238.6 419.22 M 226.4 434.4 L 238.6 425.62 M 226.4 440.8 L 238.6 432.02 M 226.4 447.2 L 238.6 438.42 M 226.4 453.6 L 238.6 444.82 M 226.4 460 L 238.6 451.22 M 226.4 466.4 L 238.6 457.62 M 226.4 472.8 L 238.6 464.02 M 226.4 479.2 L 238.6 470.42 M 226.4 485.6 L 238.6 476.82 M 226.4 492 L 238.6 483.22 " stroke="#8a8a8a" stroke-width="0.75" fill="none" stroke-dasharray="3.2 2.2"/>
</g>
<clipPath id="cb196"><rect x="238.6" y="418.4" width="3.7" height="58.2"/></clipPath><g clip-path="url(#cb196)">
<path d="M 238.6 409.34 L 242.3 412 M 238.6 415.74 L 242.3 418.4 M 238.6 422.14 L 242.3 424.8 M 238.6 428.54 L 242.3 431.2 M 238.6 434.94 L 242.3 437.6 M 238.6 441.34 L 242.3 444 M 238.6 447.74 L 242.3 450.4 M 238.6 454.14 L 242.3 456.8 M 238.6 460.54 L 242.3 463.2 M 238.6 466.94 L 242.3 469.6 M 238.6 473.34 L 242.3 476 M 238.6 479.74 L 242.3 482.4 " stroke="#8a8a8a" stroke-width="0.75" fill="none" />
<path d="M 238.6 415.2 L 242.3 412.54 M 238.6 421.6 L 242.3 418.94 M 238.6 428 L 242.3 425.34 M 238.6 434.4 L 242.3 431.74 M 238.6 440.8 L 242.3 438.14 M 238.6 447.2 L 242.3 444.54 M 238.6 453.6 L 242.3 450.94 M 238.6 460 L 242.3 457.34 M 238.6 466.4 L 242.3 463.74 M 238.6 472.8 L 242.3 470.14 M 238.6 479.2 L 242.3 476.54 M 238.6 485.6 L 242.3 482.94 " stroke="#8a8a8a" stroke-width="0.75" fill="none" stroke-dasharray="3.2 2.2"/>
</g>
<clipPath id="cb200"><rect x="242.3" y="418.4" width="12.3" height="58.2"/></clipPath><g clip-path="url(#cb200)">
<path d="M 242.3 403.14 L 254.6 412 M 242.3 409.54 L 254.6 418.4 M 242.3 415.94 L 254.6 424.8 M 242.3 422.34 L 254.6 431.2 M 242.3 428.74 L 254.6 437.6 M 242.3 435.14 L 254.6 444 M 242.3 441.54 L 254.6 450.4 M 242.3 447.94 L 254.6 456.8 M 242.3 454.34 L 254.6 463.2 M 242.3 460.74 L 254.6 469.6 M 242.3 467.14 L 254.6 476 M 242.3 473.54 L 254.6 482.4 M 242.3 479.94 L 254.6 488.8 " stroke="#8a8a8a" stroke-width="0.75" fill="none" />
<path d="M 242.3 415.2 L 254.6 406.34 M 242.3 421.6 L 254.6 412.74 M 242.3 428 L 254.6 419.14 M 242.3 434.4 L 254.6 425.54 M 242.3 440.8 L 254.6 431.94 M 242.3 447.2 L 254.6 438.34 M 242.3 453.6 L 254.6 444.74 M 242.3 460 L 254.6 451.14 M 242.3 466.4 L 254.6 457.54 M 242.3 472.8 L 254.6 463.94 M 242.3 479.2 L 254.6 470.34 M 242.3 485.6 L 254.6 476.74 M 242.3 492 L 254.6 483.14 " stroke="#8a8a8a" stroke-width="0.75" fill="none" stroke-dasharray="3.2 2.2"/>
</g>
<line x1="226.4" y1="418.4" x2="226.4" y2="476.6" stroke="#777" stroke-width="0.8" />
<line x1="238.6" y1="418.4" x2="238.6" y2="476.6" stroke="#777" stroke-width="0.8" />
<line x1="242.3" y1="418.4" x2="242.3" y2="476.6" stroke="#777" stroke-width="0.8" />
<line x1="254.6" y1="418.4" x2="254.6" y2="476.6" stroke="#777" stroke-width="0.8" />
<path d="M 224 438.5 Q 232 434.5 240.5 438.5 T 257 438.5 L 257 442.5 Q 248.5 446.5 240.5 442.5 T 224 442.5 Z" stroke="none" stroke-width="0" fill="#fff" />
<path d="M 226.4 438.6 Q 232.5 435 240.5 438.5 T 254.6 438.5 M 226.4 442.5 Q 232.5 439 240.5 442.5 T 254.6 442.5" stroke="#777" stroke-width="0.8" fill="none" />
<line x1="225.3" y1="477.2" x2="255.6" y2="477.2" stroke="#333" stroke-width="1.4" />
<rect x="225.3" y="477.2" width="13.2" height="5.3" stroke="#7a7a7a" stroke-width="0.8" fill="#fff" />
<rect x="241.6" y="477.2" width="14" height="5.3" stroke="#7a7a7a" stroke-width="0.8" fill="#fff" />
<rect x="227.6" y="482.5" width="9.2" height="7.5" stroke="#7a7a7a" stroke-width="0.8" fill="#fff" />
<rect x="243.6" y="482.5" width="10" height="7.5" stroke="#7a7a7a" stroke-width="0.8" fill="#fff" />
<line x1="227.6" y1="484.6" x2="236.8" y2="484.6" stroke="#333" stroke-width="1.0" />
<line x1="243.6" y1="484.6" x2="253.6" y2="484.6" stroke="#333" stroke-width="1.0" />
<path d="M 226.5 495.2 Q 226.5 490 229.5 490 L 235.5 490 Q 238 490 238 495.2" stroke="#7a7a7a" stroke-width="0.8" fill="#fff" />
<path d="M 242.5 495.2 Q 242.5 490 245.5 490 L 251.5 490 Q 254.5 490 254.5 495.2" stroke="#7a7a7a" stroke-width="0.8" fill="#fff" />
<path d="M 221.6 495.2 L 260.5 495.2 Q 262 495.2 262 496.7 L 262 507.8 Q 262 509.3 260.5 509.3 L 221.6 509.3 Q 220.1 509.3 220.1 507.8 L 220.1 496.7 Q 220.1 495.2 221.6 495.2 Z" stroke="#7a7a7a" stroke-width="0.8" fill="#fff" />
<clipPath id="hn220"><rect x="220.1" y="495.2" width="41.9" height="14.1"/></clipPath><g clip-path="url(#hn220)">
<path d="M 214.5 502.25 C 216.65 496.2 218.08 495.6 221.66 495.6 L 225.24 495.6 C 228.82 495.6 230.25 496.2 232.4 502.25 C 230.25 508.3 228.82 508.9 225.24 508.9 L 221.66 508.9 C 218.08 508.9 216.65 508.3 214.5 502.25 M 232.4 502.25 C 234.44 496.2 235.8 495.6 239.2 495.6 L 242.6 495.6 C 246 495.6 247.36 496.2 249.4 502.25 C 247.36 508.3 246 508.9 242.6 508.9 L 239.2 508.9 C 235.8 508.9 234.44 508.3 232.4 502.25 M 249.4 502.25 C 251.57 496.2 253.02 495.6 256.64 495.6 L 260.26 495.6 C 263.88 495.6 265.33 496.2 267.5 502.25 C 265.33 508.3 263.88 508.9 260.26 508.9 L 256.64 508.9 C 253.02 508.9 251.57 508.3 249.4 502.25 " stroke="#7a7a7a" stroke-width="0.7200000000000001" fill="none" />
</g>
<rect x="229.2" y="509.3" width="23.5" height="15" stroke="#7a7a7a" stroke-width="0.8" fill="#fff" />
<line x1="229.2" y1="511.8" x2="252.7" y2="511.8" stroke="#7a7a7a" stroke-width="0.7" />
<rect x="227.3" y="524.3" width="27.3" height="6.7" stroke="#7a7a7a" stroke-width="0.8" fill="#fff" />
<line x1="239.8" y1="524.3" x2="239.8" y2="531" stroke="#7a7a7a" stroke-width="0.7" />
<line x1="242.2" y1="524.3" x2="242.2" y2="531" stroke="#7a7a7a" stroke-width="0.7" />
<line x1="229.2" y1="524.3" x2="229.2" y2="531" stroke="#7a7a7a" stroke-width="0.5" />
<rect x="230.2" y="531" width="21.5" height="6.8" stroke="#7a7a7a" stroke-width="0.8" fill="#fff" />
<path d="M 234 537.8 L 234 540.5 L 236.5 540.5 L 236.5 543.4 L 245.8 543.4 L 245.8 540.5 L 248.3 540.5 L 248.3 537.8" stroke="#7a7a7a" stroke-width="0.8" fill="none" />
<rect x="387.5" y="331.4" width="87.1" height="37.1" stroke="#8e8e8e" stroke-width="0.8" fill="#fff" />
<clipPath id="pb21"><rect x="387.5" y="331.4" width="25.3" height="37.1"/></clipPath><g clip-path="url(#pb21)">
<path d="M 390.1 332.8 C 390.57 333.35 391.81 335.42 392.94 336.11 C 394.06 336.8 395.54 336.71 396.84 336.94 C 398.14 337.17 399.62 337.78 400.74 337.5 C 401.86 337.21 402.9 336.06 403.58 335.22 C 404.25 334.38 404.58 332.91 404.78 332.45 M 400.74 337.5 C 400.98 337.86 401.45 339.11 402.16 339.71 C 402.87 340.3 403.75 340.63 404.99 341.09 C 406.24 341.55 408.6 342.01 409.6 342.47 C 410.61 342.93 410.79 343.62 411.02 343.85 M 388.19 337.98 C 389.04 338.01 391.73 337.81 393.29 338.19 C 394.85 338.57 396.51 339.37 397.55 340.26 C 398.59 341.14 399.47 342.24 399.53 343.5 C 399.59 344.77 398.88 346.3 397.9 347.85 C 396.92 349.41 395.12 351.68 393.65 352.83 C 392.17 353.98 389.81 354.44 389.04 354.76 M 397.55 348.54 C 398.61 348.43 402.06 347.74 403.93 347.85 C 405.8 347.97 407.78 348.43 408.75 349.24 C 409.72 350.04 410.05 351.65 409.75 352.69 C 409.44 353.72 408.47 354.71 406.91 355.45 C 405.35 356.19 402.3 356.97 400.38 357.11 C 398.47 357.25 396.46 356.88 395.42 356.28 C 394.38 355.68 393.79 354.81 394.14 353.52 C 394.5 352.23 396.98 349.37 397.55 348.54 M 403.93 347.85 C 404.52 347.47 406.35 346.19 407.48 345.58 C 408.6 344.97 410.14 344.42 410.67 344.19 M 390.6 357.8 C 391.52 357.78 394.14 357.57 396.13 357.66 C 398.11 357.75 401.07 358.44 402.51 358.35 C 403.95 358.26 403.84 357.55 404.78 357.11 C 405.73 356.67 407.15 356.04 408.19 355.73 C 409.23 355.42 410.55 355.32 411.02 355.24 M 402.51 358.35 C 402.3 359.13 402.18 362.13 401.24 363.05 C 400.29 363.97 398.37 364.06 396.84 363.88 C 395.3 363.69 393.06 362.75 392.02 361.94 C 390.98 361.14 390.83 359.53 390.6 359.04 M 404.07 359.04 C 404.19 359.71 404.21 362.07 404.78 363.05 C 405.35 364.03 406.26 364.66 407.48 364.91 C 408.69 365.17 411.32 364.62 412.09 364.57 M 388.68 364.57 C 389.45 364.8 391.93 365.81 393.29 365.95 C 394.65 366.09 395.54 365.17 396.84 365.4 C 398.14 365.63 399.91 367.24 401.09 367.33 C 402.28 367.42 403.46 366.18 403.93 365.95 M 399.32 339.01 C 399.56 339.53 400.38 340.86 400.74 342.12 C 401.09 343.39 401.33 345.86 401.45 346.61 M 390.81 357.32 C 390.63 357.83 390.16 359.79 389.75 360.42 C 389.33 361.06 388.56 361 388.33 361.11 M 404.78 332.45 C 405.23 333.09 406.44 335.39 407.48 336.25 C 408.52 337.12 410.43 337.4 411.02 337.63 M 388.33 342.47 C 388.71 343.04 390.38 344.54 390.6 345.92 C 390.81 347.3 389.77 349.95 389.6 350.75 M 405.7 334.32 C 406.35 334.16 408.69 333.01 409.6 333.35 C 410.51 333.7 411.38 335.54 411.16 336.39 C 410.95 337.24 409.27 338.37 408.33 338.46 C 407.38 338.55 405.93 337.63 405.49 336.94 C 405.05 336.25 405.67 334.76 405.7 334.32 M 406.06 359.04 C 406.77 359.18 409.46 359.16 410.31 359.87 C 411.16 360.58 411.02 362.75 411.16 363.32 M 389.04 347.3 C 389.63 347.56 391.66 347.9 392.58 348.82 C 393.5 349.74 394.24 352.16 394.57 352.83 M 389.04 368.71 C 389.98 368.65 392.82 368.31 394.71 368.37 C 396.6 368.42 399.44 368.94 400.38 369.06 M 407.48 365.95 C 407.83 366.41 409.25 368.25 409.6 368.71 " stroke="#9a9a9a" stroke-width="0.7" fill="none" />
</g>
<clipPath id="pb22"><rect x="450.1" y="331.4" width="24.5" height="37.1"/></clipPath><g clip-path="url(#pb22)">
<path d="M 472.08 332.8 C 471.62 333.35 470.42 335.42 469.33 336.11 C 468.25 336.8 466.82 336.71 465.56 336.94 C 464.3 337.17 462.87 337.78 461.78 337.5 C 460.69 337.21 459.68 336.06 459.03 335.22 C 458.38 334.38 458.06 332.91 457.86 332.45 M 461.78 337.5 C 461.55 337.86 461.09 339.11 460.41 339.71 C 459.72 340.3 458.86 340.63 457.66 341.09 C 456.46 341.55 454.17 342.01 453.19 342.47 C 452.22 342.93 452.05 343.62 451.82 343.85 M 473.94 337.98 C 473.11 338.01 470.5 337.81 468.99 338.19 C 467.48 338.57 465.88 339.37 464.87 340.26 C 463.86 341.14 463 342.24 462.95 343.5 C 462.89 344.77 463.58 346.3 464.53 347.85 C 465.48 349.41 467.22 351.68 468.65 352.83 C 470.08 353.98 472.37 354.44 473.11 354.76 M 464.87 348.54 C 463.84 348.43 460.5 347.74 458.69 347.85 C 456.88 347.97 454.96 348.43 454.02 349.24 C 453.08 350.04 452.76 351.65 453.06 352.69 C 453.35 353.72 454.29 354.71 455.8 355.45 C 457.32 356.19 460.27 356.97 462.12 357.11 C 463.98 357.25 465.92 356.88 466.93 356.28 C 467.94 355.68 468.51 354.81 468.17 353.52 C 467.82 352.23 465.42 349.37 464.87 348.54 M 458.69 347.85 C 458.12 347.47 456.34 346.19 455.26 345.58 C 454.17 344.97 452.68 344.42 452.16 344.19 M 471.6 357.8 C 470.71 357.78 468.17 357.57 466.24 357.66 C 464.32 357.75 461.46 358.44 460.06 358.35 C 458.67 358.26 458.78 357.55 457.86 357.11 C 456.95 356.67 455.58 356.04 454.57 355.73 C 453.56 355.42 452.28 355.32 451.82 355.24 M 460.06 358.35 C 460.27 359.13 460.38 362.13 461.3 363.05 C 462.21 363.97 464.07 364.06 465.56 363.88 C 467.05 363.69 469.22 362.75 470.23 361.94 C 471.23 361.14 471.37 359.53 471.6 359.04 M 458.55 359.04 C 458.44 359.71 458.41 362.07 457.86 363.05 C 457.32 364.03 456.43 364.66 455.26 364.91 C 454.08 365.17 451.53 364.62 450.79 364.57 M 473.46 364.57 C 472.71 364.8 470.31 365.81 468.99 365.95 C 467.67 366.09 466.82 365.17 465.56 365.4 C 464.3 365.63 462.58 367.24 461.44 367.33 C 460.29 367.42 459.15 366.18 458.69 365.95 M 463.15 339.01 C 462.92 339.53 462.12 340.86 461.78 342.12 C 461.44 343.39 461.21 345.86 461.09 346.61 M 471.39 357.32 C 471.57 357.83 472.02 359.79 472.42 360.42 C 472.83 361.06 473.57 361 473.8 361.11 M 457.86 332.45 C 457.43 333.09 456.26 335.39 455.26 336.25 C 454.25 337.12 452.39 337.4 451.82 337.63 M 473.8 342.47 C 473.43 343.04 471.81 344.54 471.6 345.92 C 471.39 347.3 472.4 349.95 472.56 350.75 M 456.97 334.32 C 456.34 334.16 454.08 333.01 453.19 333.35 C 452.31 333.7 451.48 335.54 451.68 336.39 C 451.89 337.24 453.52 338.37 454.43 338.46 C 455.35 338.55 456.75 337.63 457.18 336.94 C 457.6 336.25 457.01 334.76 456.97 334.32 M 456.63 359.04 C 455.94 359.18 453.33 359.16 452.51 359.87 C 451.68 360.58 451.82 362.75 451.68 363.32 M 473.11 347.3 C 472.54 347.56 470.57 347.9 469.68 348.82 C 468.78 349.74 468.08 352.16 467.75 352.83 M 473.11 368.71 C 472.2 368.65 469.45 368.31 467.62 368.37 C 465.79 368.42 463.04 368.94 462.12 369.06 M 455.26 365.95 C 454.91 366.41 453.54 368.25 453.19 368.71 " stroke="#9a9a9a" stroke-width="0.7" fill="none" />
</g>
<rect x="387.5" y="331.4" width="87.1" height="37.1" stroke="#8e8e8e" stroke-width="0.8" fill="none" />
<rect x="412.8" y="331.4" width="36.8" height="37.1" stroke="#555" stroke-width="0.9" fill="#fff" />
<line x1="414.8" y1="331.4" x2="414.8" y2="368.3" stroke="#222" stroke-width="0.9" />
<line x1="447.6" y1="331.4" x2="447.6" y2="368.3" stroke="#222" stroke-width="0.9" />
<path d="M 414.8 345.1 L 447.6 345.1 M 414.8 348.3 L 447.6 348.3 M 414.8 350.1 L 447.6 350.1 M 414.8 351.6 L 447.6 351.6 M 414.8 353.3 L 447.6 353.3 M 414.8 354.8 L 447.6 354.8 M 414.8 356.3 L 447.6 356.3 M 414.8 358.1 L 447.6 358.1 M 414.8 361.8 L 447.6 361.8 M 414.8 363.3 L 447.6 363.3 M 414.8 365 L 447.6 365 M 414.8 366.5 L 447.6 366.5 " stroke="#8e8e8e" stroke-width="0.9" fill="none" />
<path d="M 414.8 346.6 L 447.6 346.6 M 414.8 360.2 L 447.6 360.2" stroke="#444" stroke-width="0.9" fill="none" />
<rect x="408.4" y="325.3" width="45.2" height="5.1" stroke="#2e2e2e" stroke-width="1.4" fill="#fff" />
<line x1="409.4" y1="368.7" x2="453.4" y2="368.7" stroke="#111" stroke-width="1.9" />
<path d="M 410 369.5 L 410.8 372.6 L 415.8 376 L 415.8 392 M 452.8 369.5 L 452 372.6 L 447.8 376 L 447.8 392 M 410.8 372.6 L 452 372.6 M 415.8 376 L 447.8 376" stroke="#888" stroke-width="0.7" fill="none" />
<rect x="415.8" y="376.6" width="32" height="5" fill="#bcbcbc"/>
<rect x="415.8" y="381.8" width="32" height="0.9" fill="#8a8a8a"/>
<rect x="415.8" y="384.2" width="32" height="0.9" fill="#9a9a9a"/>
<rect x="415.8" y="386.4" width="32" height="0.9" fill="#aaa"/>
<rect x="415.8" y="388.3" width="32" height="3.7" fill="#8a8a8a"/>
<rect x="414.8" y="392.3" width="34.7" height="26.1" stroke="#7a7a7a" stroke-width="0.8" fill="#fff" />
<line x1="418.8" y1="392.3" x2="418.8" y2="418.4" stroke="#8a8a8a" stroke-width="0.7" />
<line x1="431" y1="392.3" x2="431" y2="418.4" stroke="#8a8a8a" stroke-width="0.7" />
<line x1="435.1" y1="392.3" x2="435.1" y2="418.4" stroke="#8a8a8a" stroke-width="0.7" />
<line x1="445.3" y1="392.3" x2="445.3" y2="418.4" stroke="#8a8a8a" stroke-width="0.7" />
<clipPath id="cb257"><rect x="416" y="418.9" width="13.5" height="65.4"/></clipPath><g clip-path="url(#cb257)">
<path d="M 416 402.78 L 429.5 412.5 M 416 409.18 L 429.5 418.9 M 416 415.58 L 429.5 425.3 M 416 421.98 L 429.5 431.7 M 416 428.38 L 429.5 438.1 M 416 434.78 L 429.5 444.5 M 416 441.18 L 429.5 450.9 M 416 447.58 L 429.5 457.3 M 416 453.98 L 429.5 463.7 M 416 460.38 L 429.5 470.1 M 416 466.78 L 429.5 476.5 M 416 473.18 L 429.5 482.9 M 416 479.58 L 429.5 489.3 M 416 485.98 L 429.5 495.7 " stroke="#8a8a8a" stroke-width="0.75" fill="none" />
<path d="M 416 415.7 L 429.5 405.98 M 416 422.1 L 429.5 412.38 M 416 428.5 L 429.5 418.78 M 416 434.9 L 429.5 425.18 M 416 441.3 L 429.5 431.58 M 416 447.7 L 429.5 437.98 M 416 454.1 L 429.5 444.38 M 416 460.5 L 429.5 450.78 M 416 466.9 L 429.5 457.18 M 416 473.3 L 429.5 463.58 M 416 479.7 L 429.5 469.98 M 416 486.1 L 429.5 476.38 M 416 492.5 L 429.5 482.78 M 416 498.9 L 429.5 489.18 " stroke="#8a8a8a" stroke-width="0.75" fill="none" stroke-dasharray="3.2 2.2"/>
</g>
<line x1="416" y1="418.9" x2="416" y2="484.3" stroke="#777" stroke-width="0.8" />
<line x1="429.5" y1="418.9" x2="429.5" y2="484.3" stroke="#777" stroke-width="0.8" />
<clipPath id="cb263"><rect x="433.9" y="418.9" width="14" height="65.4"/></clipPath><g clip-path="url(#cb263)">
<path d="M 433.9 402.42 L 447.9 412.5 M 433.9 408.82 L 447.9 418.9 M 433.9 415.22 L 447.9 425.3 M 433.9 421.62 L 447.9 431.7 M 433.9 428.02 L 447.9 438.1 M 433.9 434.42 L 447.9 444.5 M 433.9 440.82 L 447.9 450.9 M 433.9 447.22 L 447.9 457.3 M 433.9 453.62 L 447.9 463.7 M 433.9 460.02 L 447.9 470.1 M 433.9 466.42 L 447.9 476.5 M 433.9 472.82 L 447.9 482.9 M 433.9 479.22 L 447.9 489.3 M 433.9 485.62 L 447.9 495.7 " stroke="#8a8a8a" stroke-width="0.75" fill="none" />
<path d="M 433.9 415.7 L 447.9 405.62 M 433.9 422.1 L 447.9 412.02 M 433.9 428.5 L 447.9 418.42 M 433.9 434.9 L 447.9 424.82 M 433.9 441.3 L 447.9 431.22 M 433.9 447.7 L 447.9 437.62 M 433.9 454.1 L 447.9 444.02 M 433.9 460.5 L 447.9 450.42 M 433.9 466.9 L 447.9 456.82 M 433.9 473.3 L 447.9 463.22 M 433.9 479.7 L 447.9 469.62 M 433.9 486.1 L 447.9 476.02 M 433.9 492.5 L 447.9 482.42 M 433.9 498.9 L 447.9 488.82 " stroke="#8a8a8a" stroke-width="0.75" fill="none" stroke-dasharray="3.2 2.2"/>
</g>
<line x1="433.9" y1="418.9" x2="433.9" y2="484.3" stroke="#777" stroke-width="0.8" />
<line x1="447.9" y1="418.9" x2="447.9" y2="484.3" stroke="#777" stroke-width="0.8" />
<path d="M 414 439.3 Q 422.7 435.3 431 439.3 L 431 443.3 Q 422.7 439.3 414 443.3 Z" stroke="none" stroke-width="0" fill="#fff" />
<path d="M 416 439.4 Q 422.7 436 429.5 439.4 M 416 443.3 Q 422.7 440 429.5 443.3" stroke="#777" stroke-width="0.8" fill="none" />
<path d="M 432 441 Q 440.9 445 450 441 L 450 446.4 Q 440.9 450.4 432 446.4 Z" stroke="none" stroke-width="0" fill="#fff" />
<path d="M 433.9 441 Q 440.9 444.5 447.9 441 M 433.9 446.4 Q 440.9 450 447.9 446.4" stroke="#777" stroke-width="0.8" fill="none" />
<line x1="415.2" y1="484.6" x2="448.6" y2="484.6" stroke="#333" stroke-width="1.2" />
<rect x="415.2" y="484.3" width="15.5" height="5.1" stroke="#7a7a7a" stroke-width="0.8" fill="#fff" />
<rect x="433" y="484.3" width="15.6" height="5.1" stroke="#7a7a7a" stroke-width="0.8" fill="#fff" />
<rect x="416.7" y="489.4" width="12.5" height="9.3" stroke="#7a7a7a" stroke-width="0.8" fill="#fff" />
<rect x="435" y="489.4" width="12.5" height="9.3" stroke="#7a7a7a" stroke-width="0.8" fill="#fff" />
<line x1="416.7" y1="491.6" x2="429.2" y2="491.6" stroke="#333" stroke-width="1.0" />
<line x1="435" y1="491.6" x2="447.5" y2="491.6" stroke="#333" stroke-width="1.0" />
<rect x="414.4" y="498.7" width="17.1" height="5.5" stroke="#7a7a7a" stroke-width="0.8" fill="#fff" />
<rect x="433" y="498.7" width="16.4" height="5.5" stroke="#7a7a7a" stroke-width="0.8" fill="#fff" />
<path d="M 410.2 510.4 L 434.7 510.4 Q 436.2 510.4 436.2 511.9 L 436.2 522.1 Q 436.2 523.6 434.7 523.6 L 410.2 523.6 Q 408.7 523.6 408.7 522.1 L 408.7 511.9 Q 408.7 510.4 410.2 510.4 Z" stroke="#7a7a7a" stroke-width="0.8" fill="#fff" />
<clipPath id="hn283"><rect x="408.7" y="510.4" width="27.5" height="13.2"/></clipPath><g clip-path="url(#hn283)">
<path d="M 403 517 C 405.08 511.4 406.46 510.8 409.92 510.8 L 413.38 510.8 C 416.84 510.8 418.22 511.4 420.3 517 C 418.22 522.6 416.84 523.2 413.38 523.2 L 409.92 523.2 C 406.46 523.2 405.08 522.6 403 517 M 420.3 517 C 421.85 511.4 422.88 510.8 425.46 510.8 L 428.04 510.8 C 430.62 510.8 431.65 511.4 433.2 517 C 431.65 522.6 430.62 523.2 428.04 523.2 L 425.46 523.2 C 422.88 523.2 421.85 522.6 420.3 517 M 433.2 517 C 434.62 511.4 435.56 510.8 437.92 510.8 L 440.28 510.8 C 442.64 510.8 443.58 511.4 445 517 C 443.58 522.6 442.64 523.2 440.28 523.2 L 437.92 523.2 C 435.56 523.2 434.62 522.6 433.2 517 " stroke="#7a7a7a" stroke-width="0.7200000000000001" fill="none" />
</g>
<path d="M 426 505.4 L 452.2 505.4 Q 453.7 505.4 453.7 506.9 L 453.7 517.9 Q 453.7 519.4 452.2 519.4 L 426 519.4 Q 424.5 519.4 424.5 517.9 L 424.5 506.9 Q 424.5 505.4 426 505.4 Z" stroke="#7a7a7a" stroke-width="0.8" fill="#fff" />
<clipPath id="hn287"><rect x="424.5" y="505.4" width="29.2" height="14"/></clipPath><g clip-path="url(#hn287)">
<path d="M 424.5 512.4 C 425.59 506.4 426.32 505.8 428.14 505.8 L 429.96 505.8 C 431.78 505.8 432.51 506.4 433.6 512.4 C 432.51 518.4 431.78 519 429.96 519 L 428.14 519 C 426.32 519 425.59 518.4 424.5 512.4 M 433.6 512.4 C 434.92 506.4 435.8 505.8 438 505.8 L 440.2 505.8 C 442.4 505.8 443.28 506.4 444.6 512.4 C 443.28 518.4 442.4 519 440.2 519 L 438 519 C 435.8 519 434.92 518.4 433.6 512.4 M 444.6 512.4 C 445.69 506.4 446.42 505.8 448.24 505.8 L 450.06 505.8 C 451.88 505.8 452.61 506.4 453.7 512.4 C 452.61 518.4 451.88 519 450.06 519 L 448.24 519 C 446.42 519 445.69 518.4 444.6 512.4 " stroke="#7a7a7a" stroke-width="0.7200000000000001" fill="none" />
</g>
<rect x="411.3" y="523.6" width="25.7" height="13.2" stroke="#7a7a7a" stroke-width="0.8" fill="#fff" />
<line x1="421.5" y1="523.6" x2="421.5" y2="526" stroke="#7a7a7a" stroke-width="0.6" />
<rect x="408.7" y="536.8" width="29.8" height="7.4" stroke="#7a7a7a" stroke-width="0.8" fill="#fff" />
<line x1="417" y1="536.8" x2="417" y2="544.2" stroke="#7a7a7a" stroke-width="0.6" />
<line x1="430" y1="536.8" x2="430" y2="544.2" stroke="#7a7a7a" stroke-width="0.6" />
<rect x="412.9" y="544.2" width="22.8" height="7.4" stroke="#7a7a7a" stroke-width="0.8" fill="#fff" />
<path d="M 416.4 551.6 L 416.4 554 L 419 554 L 419 557 L 429.8 557 L 429.8 554 L 432.3 554 L 432.3 551.6" stroke="#7a7a7a" stroke-width="0.8" fill="none" />
<rect x="570.6" y="331.4" width="87.1" height="37.1" stroke="#8e8e8e" stroke-width="0.8" fill="#fff" />
<clipPath id="pb31"><rect x="570.6" y="331.4" width="25.3" height="37.1"/></clipPath><g clip-path="url(#pb31)">
<path d="M 573.2 332.8 C 573.67 333.35 574.91 335.42 576.04 336.11 C 577.16 336.8 578.64 336.71 579.94 336.94 C 581.24 337.17 582.72 337.78 583.84 337.5 C 584.96 337.21 586 336.06 586.68 335.22 C 587.35 334.38 587.68 332.91 587.88 332.45 M 583.84 337.5 C 584.08 337.86 584.55 339.11 585.26 339.71 C 585.97 340.3 586.85 340.63 588.09 341.09 C 589.34 341.55 591.7 342.01 592.7 342.47 C 593.71 342.93 593.89 343.62 594.12 343.85 M 571.29 337.98 C 572.14 338.01 574.83 337.81 576.39 338.19 C 577.95 338.57 579.61 339.37 580.65 340.26 C 581.69 341.14 582.57 342.24 582.63 343.5 C 582.69 344.77 581.98 346.3 581 347.85 C 580.02 349.41 578.22 351.68 576.75 352.83 C 575.27 353.98 572.91 354.44 572.14 354.76 M 580.65 348.54 C 581.71 348.43 585.16 347.74 587.03 347.85 C 588.9 347.97 590.88 348.43 591.85 349.24 C 592.82 350.04 593.15 351.65 592.85 352.69 C 592.54 353.72 591.57 354.71 590.01 355.45 C 588.45 356.19 585.4 356.97 583.48 357.11 C 581.57 357.25 579.56 356.88 578.52 356.28 C 577.48 355.68 576.89 354.81 577.24 353.52 C 577.6 352.23 580.08 349.37 580.65 348.54 M 587.03 347.85 C 587.62 347.47 589.45 346.19 590.58 345.58 C 591.7 344.97 593.24 344.42 593.77 344.19 M 573.7 357.8 C 574.62 357.78 577.24 357.57 579.23 357.66 C 581.21 357.75 584.17 358.44 585.61 358.35 C 587.05 358.26 586.94 357.55 587.88 357.11 C 588.83 356.67 590.25 356.04 591.29 355.73 C 592.33 355.42 593.65 355.32 594.12 355.24 M 585.61 358.35 C 585.4 359.13 585.28 362.13 584.34 363.05 C 583.39 363.97 581.47 364.06 579.94 363.88 C 578.4 363.69 576.16 362.75 575.12 361.94 C 574.08 361.14 573.93 359.53 573.7 359.04 M 587.17 359.04 C 587.29 359.71 587.31 362.07 587.88 363.05 C 588.45 364.03 589.36 364.66 590.58 364.91 C 591.79 365.17 594.42 364.62 595.19 364.57 M 571.78 364.57 C 572.55 364.8 575.03 365.81 576.39 365.95 C 577.75 366.09 578.64 365.17 579.94 365.4 C 581.24 365.63 583.01 367.24 584.19 367.33 C 585.38 367.42 586.56 366.18 587.03 365.95 M 582.42 339.01 C 582.66 339.53 583.48 340.86 583.84 342.12 C 584.19 343.39 584.43 345.86 584.55 346.61 M 573.91 357.32 C 573.73 357.83 573.26 359.79 572.85 360.42 C 572.43 361.06 571.66 361 571.43 361.11 M 587.88 332.45 C 588.33 333.09 589.54 335.39 590.58 336.25 C 591.62 337.12 593.53 337.4 594.12 337.63 M 571.43 342.47 C 571.81 343.04 573.48 344.54 573.7 345.92 C 573.91 347.3 572.87 349.95 572.7 350.75 M 588.8 334.32 C 589.45 334.16 591.79 333.01 592.7 333.35 C 593.61 333.7 594.48 335.54 594.26 336.39 C 594.05 337.24 592.37 338.37 591.43 338.46 C 590.48 338.55 589.03 337.63 588.59 336.94 C 588.15 336.25 588.77 334.76 588.8 334.32 M 589.16 359.04 C 589.87 359.18 592.56 359.16 593.41 359.87 C 594.26 360.58 594.12 362.75 594.26 363.32 M 572.14 347.3 C 572.73 347.56 574.76 347.9 575.68 348.82 C 576.6 349.74 577.34 352.16 577.67 352.83 M 572.14 368.71 C 573.08 368.65 575.92 368.31 577.81 368.37 C 579.7 368.42 582.54 368.94 583.48 369.06 M 590.58 365.95 C 590.93 366.41 592.35 368.25 592.7 368.71 " stroke="#9a9a9a" stroke-width="0.7" fill="none" />
</g>
<clipPath id="pb32"><rect x="633.2" y="331.4" width="24.5" height="37.1"/></clipPath><g clip-path="url(#pb32)">
<path d="M 655.18 332.8 C 654.72 333.35 653.52 335.42 652.43 336.11 C 651.35 336.8 649.92 336.71 648.66 336.94 C 647.4 337.17 645.97 337.78 644.88 337.5 C 643.79 337.21 642.78 336.06 642.13 335.22 C 641.48 334.38 641.16 332.91 640.96 332.45 M 644.88 337.5 C 644.65 337.86 644.19 339.11 643.51 339.71 C 642.82 340.3 641.96 340.63 640.76 341.09 C 639.56 341.55 637.27 342.01 636.29 342.47 C 635.32 342.93 635.15 343.62 634.92 343.85 M 657.04 337.98 C 656.21 338.01 653.6 337.81 652.09 338.19 C 650.58 338.57 648.98 339.37 647.97 340.26 C 646.96 341.14 646.1 342.24 646.05 343.5 C 645.99 344.77 646.68 346.3 647.63 347.85 C 648.58 349.41 650.32 351.68 651.75 352.83 C 653.18 353.98 655.47 354.44 656.21 354.76 M 647.97 348.54 C 646.94 348.43 643.6 347.74 641.79 347.85 C 639.98 347.97 638.06 348.43 637.12 349.24 C 636.18 350.04 635.86 351.65 636.16 352.69 C 636.45 353.72 637.39 354.71 638.9 355.45 C 640.42 356.19 643.37 356.97 645.22 357.11 C 647.08 357.25 649.02 356.88 650.03 356.28 C 651.04 355.68 651.61 354.81 651.27 353.52 C 650.92 352.23 648.52 349.37 647.97 348.54 M 641.79 347.85 C 641.22 347.47 639.44 346.19 638.36 345.58 C 637.27 344.97 635.78 344.42 635.26 344.19 M 654.7 357.8 C 653.81 357.78 651.27 357.57 649.34 357.66 C 647.42 357.75 644.56 358.44 643.16 358.35 C 641.77 358.26 641.88 357.55 640.96 357.11 C 640.05 356.67 638.68 356.04 637.67 355.73 C 636.66 355.42 635.38 355.32 634.92 355.24 M 643.16 358.35 C 643.37 359.13 643.48 362.13 644.4 363.05 C 645.31 363.97 647.17 364.06 648.66 363.88 C 650.15 363.69 652.32 362.75 653.33 361.94 C 654.33 361.14 654.47 359.53 654.7 359.04 M 641.65 359.04 C 641.54 359.71 641.51 362.07 640.96 363.05 C 640.42 364.03 639.53 364.66 638.36 364.91 C 637.18 365.17 634.63 364.62 633.89 364.57 M 656.56 364.57 C 655.81 364.8 653.41 365.81 652.09 365.95 C 650.77 366.09 649.92 365.17 648.66 365.4 C 647.4 365.63 645.68 367.24 644.54 367.33 C 643.39 367.42 642.25 366.18 641.79 365.95 M 646.25 339.01 C 646.02 339.53 645.22 340.86 644.88 342.12 C 644.54 343.39 644.31 345.86 644.19 346.61 M 654.49 357.32 C 654.67 357.83 655.12 359.79 655.52 360.42 C 655.93 361.06 656.67 361 656.9 361.11 M 640.96 332.45 C 640.53 333.09 639.36 335.39 638.36 336.25 C 637.35 337.12 635.49 337.4 634.92 337.63 M 656.9 342.47 C 656.53 343.04 654.91 344.54 654.7 345.92 C 654.49 347.3 655.5 349.95 655.66 350.75 M 640.07 334.32 C 639.44 334.16 637.18 333.01 636.29 333.35 C 635.41 333.7 634.58 335.54 634.78 336.39 C 634.99 337.24 636.62 338.37 637.53 338.46 C 638.45 338.55 639.85 337.63 640.28 336.94 C 640.7 336.25 640.11 334.76 640.07 334.32 M 639.73 359.04 C 639.04 359.18 636.43 359.16 635.61 359.87 C 634.78 360.58 634.92 362.75 634.78 363.32 M 656.21 347.3 C 655.64 347.56 653.67 347.9 652.78 348.82 C 651.88 349.74 651.18 352.16 650.85 352.83 M 656.21 368.71 C 655.3 368.65 652.55 368.31 650.72 368.37 C 648.89 368.42 646.14 368.94 645.22 369.06 M 638.36 365.95 C 638.01 366.41 636.64 368.25 636.29 368.71 " stroke="#9a9a9a" stroke-width="0.7" fill="none" />
</g>
<rect x="570.6" y="331.4" width="87.1" height="37.1" stroke="#8e8e8e" stroke-width="0.8" fill="none" />
<rect x="595.9" y="331.4" width="36.8" height="37.1" stroke="#555" stroke-width="0.9" fill="#fff" />
<line x1="597.9" y1="331.4" x2="597.9" y2="368.3" stroke="#222" stroke-width="0.9" />
<line x1="630.7" y1="331.4" x2="630.7" y2="368.3" stroke="#222" stroke-width="0.9" />
<path d="M 597.9 341.3 L 630.7 341.3 M 597.9 343.3 L 630.7 343.3 M 597.9 345.1 L 630.7 345.1 M 597.9 348.3 L 630.7 348.3 M 597.9 350.1 L 630.7 350.1 M 597.9 351.6 L 630.7 351.6 M 597.9 353.3 L 630.7 353.3 M 597.9 354.8 L 630.7 354.8 M 597.9 356.3 L 630.7 356.3 M 597.9 358.1 L 630.7 358.1 M 597.9 361.8 L 630.7 361.8 M 597.9 363.3 L 630.7 363.3 M 597.9 365 L 630.7 365 M 597.9 366.5 L 630.7 366.5 " stroke="#8e8e8e" stroke-width="0.9" fill="none" />
<path d="M 597.9 346.6 L 630.7 346.6 M 597.9 360.2 L 630.7 360.2" stroke="#444" stroke-width="0.9" fill="none" />
<rect x="591.5" y="325.3" width="45.2" height="5.1" stroke="#2e2e2e" stroke-width="1.4" fill="#fff" />
<line x1="592.5" y1="368.7" x2="636.5" y2="368.7" stroke="#111" stroke-width="1.9" />
<path d="M 593.1 369.5 L 593.9 372.6 L 598.9 376 L 598.9 392 M 635.9 369.5 L 635.1 372.6 L 630.9 376 L 630.9 392 M 593.9 372.6 L 635.1 372.6 M 598.9 376 L 630.9 376" stroke="#888" stroke-width="0.7" fill="none" />
<rect x="598.9" y="376.6" width="32" height="5" fill="#bcbcbc"/>
<rect x="598.9" y="381.8" width="32" height="0.9" fill="#8a8a8a"/>
<rect x="598.9" y="384.2" width="32" height="0.9" fill="#9a9a9a"/>
<rect x="598.9" y="386.4" width="32" height="0.9" fill="#aaa"/>
<rect x="598.9" y="388.3" width="32" height="3.7" fill="#8a8a8a"/>
<rect x="597.9" y="392.3" width="34.7" height="26.1" stroke="#7a7a7a" stroke-width="0.8" fill="#fff" />
<line x1="601.9" y1="392.3" x2="601.9" y2="418.4" stroke="#8a8a8a" stroke-width="0.7" />
<line x1="614.1" y1="392.3" x2="614.1" y2="418.4" stroke="#8a8a8a" stroke-width="0.7" />
<line x1="618.2" y1="392.3" x2="618.2" y2="418.4" stroke="#8a8a8a" stroke-width="0.7" />
<line x1="628.4" y1="392.3" x2="628.4" y2="418.4" stroke="#8a8a8a" stroke-width="0.7" />
<clipPath id="cb323"><rect x="600.7" y="418.4" width="12.2" height="58.2"/></clipPath><g clip-path="url(#cb323)">
<path d="M 600.7 403.22 L 612.9 412 M 600.7 409.62 L 612.9 418.4 M 600.7 416.02 L 612.9 424.8 M 600.7 422.42 L 612.9 431.2 M 600.7 428.82 L 612.9 437.6 M 600.7 435.22 L 612.9 444 M 600.7 441.62 L 612.9 450.4 M 600.7 448.02 L 612.9 456.8 M 600.7 454.42 L 612.9 463.2 M 600.7 460.82 L 612.9 469.6 M 600.7 467.22 L 612.9 476 M 600.7 473.62 L 612.9 482.4 M 600.7 480.02 L 612.9 488.8 " stroke="#8a8a8a" stroke-width="0.75" fill="none" />
<path d="M 600.7 415.2 L 612.9 406.42 M 600.7 421.6 L 612.9 412.82 M 600.7 428 L 612.9 419.22 M 600.7 434.4 L 612.9 425.62 M 600.7 440.8 L 612.9 432.02 M 600.7 447.2 L 612.9 438.42 M 600.7 453.6 L 612.9 444.82 M 600.7 460 L 612.9 451.22 M 600.7 466.4 L 612.9 457.62 M 600.7 472.8 L 612.9 464.02 M 600.7 479.2 L 612.9 470.42 M 600.7 485.6 L 612.9 476.82 M 600.7 492 L 612.9 483.22 " stroke="#8a8a8a" stroke-width="0.75" fill="none" stroke-dasharray="3.2 2.2"/>
</g>
<clipPath id="cb327"><rect x="612.9" y="418.4" width="3.7" height="58.2"/></clipPath><g clip-path="url(#cb327)">
<path d="M 612.9 409.34 L 616.6 412 M 612.9 415.74 L 616.6 418.4 M 612.9 422.14 L 616.6 424.8 M 612.9 428.54 L 616.6 431.2 M 612.9 434.94 L 616.6 437.6 M 612.9 441.34 L 616.6 444 M 612.9 447.74 L 616.6 450.4 M 612.9 454.14 L 616.6 456.8 M 612.9 460.54 L 616.6 463.2 M 612.9 466.94 L 616.6 469.6 M 612.9 473.34 L 616.6 476 M 612.9 479.74 L 616.6 482.4 " stroke="#8a8a8a" stroke-width="0.75" fill="none" />
<path d="M 612.9 415.2 L 616.6 412.54 M 612.9 421.6 L 616.6 418.94 M 612.9 428 L 616.6 425.34 M 612.9 434.4 L 616.6 431.74 M 612.9 440.8 L 616.6 438.14 M 612.9 447.2 L 616.6 444.54 M 612.9 453.6 L 616.6 450.94 M 612.9 460 L 616.6 457.34 M 612.9 466.4 L 616.6 463.74 M 612.9 472.8 L 616.6 470.14 M 612.9 479.2 L 616.6 476.54 M 612.9 485.6 L 616.6 482.94 " stroke="#8a8a8a" stroke-width="0.75" fill="none" stroke-dasharray="3.2 2.2"/>
</g>
<clipPath id="cb331"><rect x="616.6" y="418.4" width="12.3" height="58.2"/></clipPath><g clip-path="url(#cb331)">
<path d="M 616.6 403.14 L 628.9 412 M 616.6 409.54 L 628.9 418.4 M 616.6 415.94 L 628.9 424.8 M 616.6 422.34 L 628.9 431.2 M 616.6 428.74 L 628.9 437.6 M 616.6 435.14 L 628.9 444 M 616.6 441.54 L 628.9 450.4 M 616.6 447.94 L 628.9 456.8 M 616.6 454.34 L 628.9 463.2 M 616.6 460.74 L 628.9 469.6 M 616.6 467.14 L 628.9 476 M 616.6 473.54 L 628.9 482.4 M 616.6 479.94 L 628.9 488.8 " stroke="#8a8a8a" stroke-width="0.75" fill="none" />
<path d="M 616.6 415.2 L 628.9 406.34 M 616.6 421.6 L 628.9 412.74 M 616.6 428 L 628.9 419.14 M 616.6 434.4 L 628.9 425.54 M 616.6 440.8 L 628.9 431.94 M 616.6 447.2 L 628.9 438.34 M 616.6 453.6 L 628.9 444.74 M 616.6 460 L 628.9 451.14 M 616.6 466.4 L 628.9 457.54 M 616.6 472.8 L 628.9 463.94 M 616.6 479.2 L 628.9 470.34 M 616.6 485.6 L 628.9 476.74 M 616.6 492 L 628.9 483.14 " stroke="#8a8a8a" stroke-width="0.75" fill="none" stroke-dasharray="3.2 2.2"/>
</g>
<line x1="600.7" y1="418.4" x2="600.7" y2="476.6" stroke="#777" stroke-width="0.8" />
<line x1="612.9" y1="418.4" x2="612.9" y2="476.6" stroke="#777" stroke-width="0.8" />
<line x1="616.6" y1="418.4" x2="616.6" y2="476.6" stroke="#777" stroke-width="0.8" />
<line x1="628.9" y1="418.4" x2="628.9" y2="476.6" stroke="#777" stroke-width="0.8" />
<path d="M 598.3 438.5 Q 606.3 434.5 614.8 438.5 T 631.3 438.5 L 631.3 442.5 Q 622.8 446.5 614.8 442.5 T 598.3 442.5 Z" stroke="none" stroke-width="0" fill="#fff" />
<path d="M 600.7 438.6 Q 606.8 435 614.8 438.5 T 628.9 438.5 M 600.7 442.5 Q 606.8 439 614.8 442.5 T 628.9 442.5" stroke="#777" stroke-width="0.8" fill="none" />
<line x1="599.6" y1="477.2" x2="629.9" y2="477.2" stroke="#333" stroke-width="1.4" />
<rect x="599.6" y="477.2" width="13.2" height="5.3" stroke="#7a7a7a" stroke-width="0.8" fill="#fff" />
<rect x="615.9" y="477.2" width="14" height="5.3" stroke="#7a7a7a" stroke-width="0.8" fill="#fff" />
<rect x="601.9" y="482.5" width="9.2" height="7.5" stroke="#7a7a7a" stroke-width="0.8" fill="#fff" />
<rect x="617.9" y="482.5" width="10" height="7.5" stroke="#7a7a7a" stroke-width="0.8" fill="#fff" />
<line x1="601.9" y1="484.6" x2="611.1" y2="484.6" stroke="#333" stroke-width="1.0" />
<line x1="617.9" y1="484.6" x2="627.9" y2="484.6" stroke="#333" stroke-width="1.0" />
<path d="M 600.8 495.2 Q 600.8 490 603.8 490 L 609.8 490 Q 612.3 490 612.3 495.2" stroke="#7a7a7a" stroke-width="0.8" fill="#fff" />
<path d="M 616.8 495.2 Q 616.8 490 619.8 490 L 625.8 490 Q 628.8 490 628.8 495.2" stroke="#7a7a7a" stroke-width="0.8" fill="#fff" />
<path d="M 595.9 495.2 L 634.8 495.2 Q 636.3 495.2 636.3 496.7 L 636.3 507.8 Q 636.3 509.3 634.8 509.3 L 595.9 509.3 Q 594.4 509.3 594.4 507.8 L 594.4 496.7 Q 594.4 495.2 595.9 495.2 Z" stroke="#7a7a7a" stroke-width="0.8" fill="#fff" />
<clipPath id="hn351"><rect x="594.4" y="495.2" width="41.9" height="14.1"/></clipPath><g clip-path="url(#hn351)">
<path d="M 588.8 502.25 C 590.95 496.2 592.38 495.6 595.96 495.6 L 599.54 495.6 C 603.12 495.6 604.55 496.2 606.7 502.25 C 604.55 508.3 603.12 508.9 599.54 508.9 L 595.96 508.9 C 592.38 508.9 590.95 508.3 588.8 502.25 M 606.7 502.25 C 608.74 496.2 610.1 495.6 613.5 495.6 L 616.9 495.6 C 620.3 495.6 621.66 496.2 623.7 502.25 C 621.66 508.3 620.3 508.9 616.9 508.9 L 613.5 508.9 C 610.1 508.9 608.74 508.3 606.7 502.25 M 623.7 502.25 C 625.87 496.2 627.32 495.6 630.94 495.6 L 634.56 495.6 C 638.18 495.6 639.63 496.2 641.8 502.25 C 639.63 508.3 638.18 508.9 634.56 508.9 L 630.94 508.9 C 627.32 508.9 625.87 508.3 623.7 502.25 " stroke="#7a7a7a" stroke-width="0.7200000000000001" fill="none" />
</g>
<rect x="603.5" y="509.3" width="23.5" height="15" stroke="#7a7a7a" stroke-width="0.8" fill="#fff" />
<line x1="603.5" y1="511.8" x2="627" y2="511.8" stroke="#7a7a7a" stroke-width="0.7" />
<rect x="601.6" y="524.3" width="27.3" height="6.7" stroke="#7a7a7a" stroke-width="0.8" fill="#fff" />
<line x1="614.1" y1="524.3" x2="614.1" y2="531" stroke="#7a7a7a" stroke-width="0.7" />
<line x1="616.5" y1="524.3" x2="616.5" y2="531" stroke="#7a7a7a" stroke-width="0.7" />
<line x1="603.5" y1="524.3" x2="603.5" y2="531" stroke="#7a7a7a" stroke-width="0.5" />
<rect x="604.5" y="531" width="21.5" height="6.8" stroke="#7a7a7a" stroke-width="0.8" fill="#fff" />
<path d="M 608.3 537.8 L 608.3 540.5 L 610.8 540.5 L 610.8 543.4 L 620.1 543.4 L 620.1 540.5 L 622.6 540.5 L 622.6 537.8" stroke="#7a7a7a" stroke-width="0.8" fill="none" />
<text x="416.27" y="343.5" font-size="13.2" textLength="28.08" lengthAdjust="spacingAndGlyphs">Ø53</text>
<line x1="416" y1="345.7" x2="447" y2="345.7" stroke="#777" stroke-width="0.9" />
<polygon points="410.6,345.7 416.2,343.9 416.2,347.5" fill="#111"/>
<polygon points="452.5,345.7 446.9,347.5 446.9,343.9" fill="#111"/>
</svg></body></html>
